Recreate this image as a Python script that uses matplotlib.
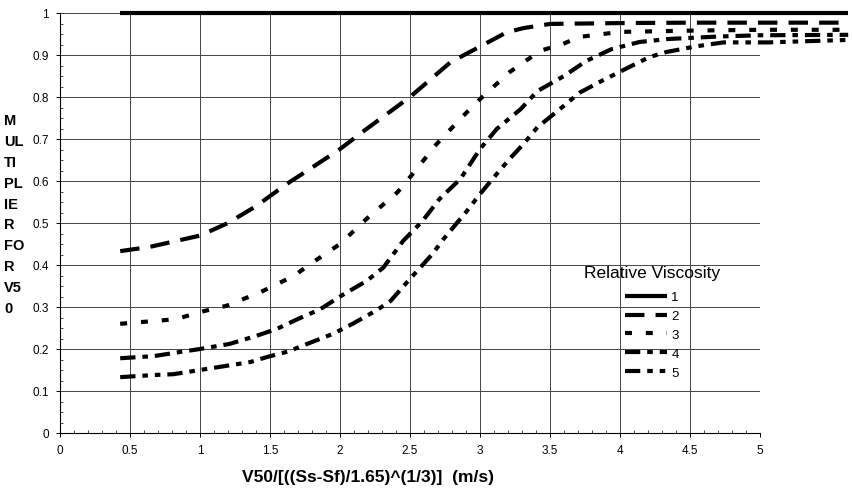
import matplotlib
matplotlib.use("Agg")
import matplotlib.pyplot as plt
from matplotlib.ticker import MultipleLocator, FuncFormatter

plt.rcParams['font.family'] = ['Liberation Sans', 'DejaVu Sans']
plt.rcParams['lines.scale_dashes'] = False

# ---- data ----
x1 = [0.43, 5.63]
y1 = [1.0, 1.0]

x2 = [0.43, 0.64, 1.0, 1.2, 1.4, 1.62, 1.8, 2.0, 2.19, 2.5, 2.79, 3.0, 3.19, 3.31, 3.5, 4.0, 4.5, 5.0, 5.63]
y2 = [0.433, 0.443, 0.47, 0.50, 0.54, 0.593, 0.632, 0.676, 0.724, 0.80, 0.883, 0.92, 0.954, 0.964, 0.974, 0.976, 0.977, 0.977, 0.977]

x3 = [0.43, 0.83, 1.0, 1.19, 1.43, 1.67, 1.8, 2.0, 2.19, 2.41, 2.5, 2.69, 2.88, 3.0, 3.21, 3.43, 3.59, 3.71, 4.0, 4.5, 5.0, 5.63]
y3 = [0.26, 0.271, 0.288, 0.303, 0.335, 0.374, 0.405, 0.45, 0.51, 0.573, 0.609, 0.688, 0.755, 0.795, 0.859, 0.91, 0.926, 0.943, 0.955, 0.958, 0.96, 0.96]

x4 = [0.43, 0.67, 0.86, 1.0, 1.21, 1.4, 1.55, 1.69, 1.86, 2.01, 2.19, 2.31, 2.45, 2.59, 2.71, 2.86, 3.0, 3.12, 3.29, 3.41, 3.6, 3.76, 3.94, 4.14, 4.34, 4.7, 5.0, 5.63]
y4 = [0.178, 0.183, 0.193, 0.2, 0.212, 0.231, 0.248, 0.27, 0.295, 0.327, 0.362, 0.394, 0.457, 0.505, 0.557, 0.605, 0.676, 0.724, 0.771, 0.814, 0.85, 0.886, 0.914, 0.931, 0.938, 0.944, 0.947, 0.948]

x5 = [0.43, 0.67, 0.81, 1.0, 1.19, 1.36, 1.48, 1.64, 1.71, 1.95, 2.09, 2.25, 2.36, 2.5, 2.66, 2.74, 2.9, 3.0, 3.12, 3.21, 3.31, 3.41, 3.57, 3.71, 3.85, 4.04, 4.21, 4.33, 4.55, 4.74, 5.06, 5.63]
y5 = [0.133, 0.138, 0.14, 0.15, 0.16, 0.169, 0.181, 0.195, 0.205, 0.236, 0.26, 0.29, 0.314, 0.367, 0.426, 0.462, 0.526, 0.569, 0.617, 0.652, 0.688, 0.728, 0.771, 0.81, 0.835, 0.867, 0.895, 0.907, 0.921, 0.93, 0.93, 0.936]

labels = ["1", "2", "3", "4", "5"]
x_ticks = [0, 0.5, 1, 1.5, 2, 2.5, 3, 3.5, 4, 4.5, 5]
y_ticks = [0, 0.1, 0.2, 0.3, 0.4, 0.5, 0.6, 0.7, 0.8, 0.9, 1]

# ---- figure ----
W, H = 852, 489
fig = plt.figure(figsize=(W / 100, H / 100), dpi=100)
ax = fig.add_axes([60 / W, 1 - 434 / H, 700 / W, 420 / H])

series = [(x1, y1, '-'),
          (x2, y2, (0, (14, 8))),
          (x3, y3, (0, (5, 10))),
          (x4, y4, (0, (11, 5, 4, 5))),
          (x5, y5, (0, (11, 5, 4, 5, 4, 5)))]
for (xs, ys, ls), lab in zip(series, labels):
    ax.plot(xs, ys, color='black', lw=3.0, linestyle=ls, label=lab,
            clip_on=False, solid_capstyle='butt', dash_capstyle='butt', zorder=3)

ax.set_xlim(0, 5)
ax.set_ylim(0, 1)
ax.set_xticks(x_ticks)
ax.set_yticks(y_ticks)
fmt = FuncFormatter(lambda v, p: ('%g' % v))
ax.xaxis.set_major_formatter(fmt)
ax.yaxis.set_major_formatter(fmt)
ax.xaxis.set_minor_locator(MultipleLocator(0.1))
ax.yaxis.set_minor_locator(MultipleLocator(0.025))
ax.tick_params(axis='both', which='major', labelsize=8.5, length=3, width=0.7, direction='out', pad=5)
ax.tick_params(axis='both', which='minor', length=2, width=0.5, direction='in')
ax.grid(True, which='major', color='#444444', lw=0.7)
ax.set_axisbelow(True)
for s in ['top', 'right']:
    ax.spines[s].set_visible(False)
for s in ['left', 'bottom']:
    ax.spines[s].set_linewidth(0.8)
ax.axvline(5, color='#666666', lw=0.7, ls=(0, (3, 2)), zorder=1)

# axis labels
fig.text(368 / W, 1 - 478 / H, "V50/[((Ss-Sf)/1.65)^(1/3)]  (m/s)",
         ha='center', va='center', fontsize=12.5, fontweight='bold')
fig.text(4 / W, 1 - 215 / H, "M\nUL\nTI\nPL\nIE\nR\nFO\nR\nV5\n0",
         ha='left', va='center', fontsize=10.5, fontweight='bold', linespacing=1.63)

leg = ax.legend(loc='upper center', bbox_to_anchor=(652 / W, 1 - 266 / H),
                bbox_transform=fig.transFigure, frameon=False,
                title="Relative Viscosity", title_fontsize=12.5, fontsize=9.5,
                handlelength=3.2, handletextpad=0.3, labelspacing=0.5,
                borderpad=0, borderaxespad=0)
leg._legend_box.sep = 8

fig.savefig("out.png", dpi=100)
